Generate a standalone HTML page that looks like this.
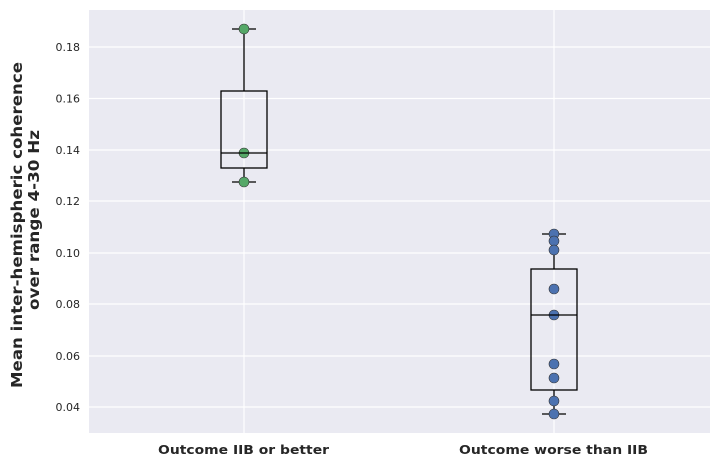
<!DOCTYPE html><html><head><style>body{margin:0;background:#fff}</style></head><body>
<svg width="718" height="467" xmlns="http://www.w3.org/2000/svg" font-family="DejaVu Sans, sans-serif">
<rect x="89" y="10" width="621" height="423" fill="#eaeaf2"/>
<g stroke="#fff" stroke-width="1.2">
<line x1="89" x2="710" y1="47" y2="47"/><line x1="89" x2="710" y1="98.5" y2="98.5"/><line x1="89" x2="710" y1="150" y2="150"/><line x1="89" x2="710" y1="201" y2="201"/><line x1="89" x2="710" y1="253" y2="253"/><line x1="89" x2="710" y1="304" y2="304"/><line x1="89" x2="710" y1="356" y2="356"/><line x1="89" x2="710" y1="407" y2="407"/>
<line x1="244" x2="244" y1="10" y2="433"/><line x1="554" x2="554" y1="10" y2="433"/>
</g>
<g font-size="11" fill="#262626" text-anchor="end">
<text x="80" y="51">0.18</text><text x="80" y="102.5">0.16</text><text x="80" y="154">0.14</text><text x="80" y="205">0.12</text><text x="80" y="257">0.10</text><text x="80" y="308">0.08</text><text x="80" y="360">0.06</text><text x="80" y="411">0.04</text>
</g>
<g font-size="12.5" font-weight="bold" fill="#262626">
<text x="158" y="454" textLength="171" lengthAdjust="spacingAndGlyphs">Outcome IIB or better</text><text x="459" y="454" textLength="189" lengthAdjust="spacingAndGlyphs">Outcome worse than IIB</text>
<text transform="translate(22,388) rotate(-90)" font-size="15" textLength="326" lengthAdjust="spacingAndGlyphs">Mean inter-hemispheric coherence</text>
<text transform="translate(39,310) rotate(-90)" font-size="15" textLength="180" lengthAdjust="spacingAndGlyphs">over range 4-30 Hz</text>
</g>
<g stroke="#000" stroke-width="1.3" fill="none">
<line x1="244" x2="244" y1="29" y2="91"/><line x1="244" x2="244" y1="168" y2="182"/>
<line x1="232" x2="256" y1="29" y2="29"/><line x1="232" x2="256" y1="182" y2="182"/>
<line x1="554" x2="554" y1="234" y2="269"/><line x1="554" x2="554" y1="390" y2="414"/>
<line x1="542" x2="566" y1="234" y2="234"/><line x1="542" x2="566" y1="414" y2="414"/>
</g>
<g fill="#55a868" stroke="#333" stroke-width="0.6">
<circle cx="244" cy="29" r="5"/><circle cx="244" cy="153" r="5"/><circle cx="244" cy="182" r="5"/>
</g>
<g fill="#4c72b0" stroke="#333" stroke-width="0.6">
<circle cx="554" cy="234" r="5"/><circle cx="554" cy="241" r="5"/><circle cx="554" cy="250" r="5"/><circle cx="554" cy="289" r="5"/><circle cx="554" cy="315" r="5"/><circle cx="554" cy="364" r="5"/><circle cx="554" cy="378" r="5"/><circle cx="554" cy="401" r="5"/><circle cx="554" cy="414" r="5"/>
</g>
<g stroke="#000" stroke-width="1.3" fill="none">
<rect x="221" y="91" width="46" height="77"/><line x1="221" x2="267" y1="153" y2="153"/>
<rect x="531" y="269" width="46" height="121"/><line x1="531" x2="577" y1="315" y2="315"/>
</g>
</svg></body></html>
